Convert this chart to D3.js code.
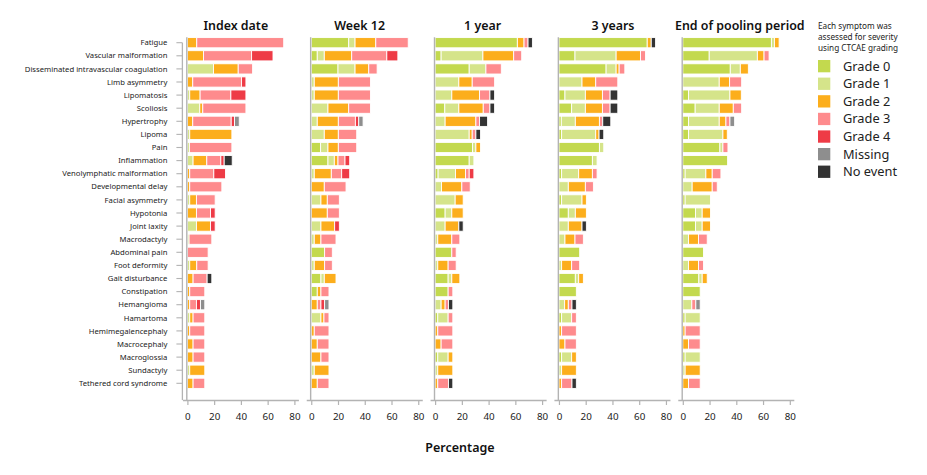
<!DOCTYPE html>
<html>
<head>
<meta charset="utf-8">
<script src="https://cdn.jsdelivr.net/npm/d3@7"></script>
<style>
  body { margin: 0; background: #fff; }
  text { font-family: 'Noto Sans', sans-serif; }
</style>
</head>
<body>
<div id="chart"></div>
<script>
const symptoms = [
  'Fatigue', 'Vascular malformation', 'Disseminated intravascular coagulation',
  'Limb asymmetry', 'Lipomatosis', 'Scoliosis', 'Hypertrophy', 'Lipoma', 'Pain',
  'Inflammation', 'Venolymphatic malformation', 'Developmental delay',
  'Facial asymmetry', 'Hypotonia', 'Joint laxity', 'Macrodactyly', 'Abdominal pain',
  'Foot deformity', 'Gait disturbance', 'Constipation', 'Hemangioma', 'Hamartoma',
  'Hemimegalencephaly', 'Macrocephaly', 'Macroglossia', 'Sundactyly',
  'Tethered cord syndrome',
];

const timepoints = ['Index date', 'Week 12', '1 year', '3 years', 'End of pooling period'];

const grades = ['Grade 0', 'Grade 1', 'Grade 2', 'Grade 3', 'Grade 4', 'Missing', 'No event'];
const gradeColors = ['#c3d94e', '#d5e48a', '#fcae1c', '#fe8b8d', '#ee3b46', '#8e8e8e', '#333333'];

const xTicks = [0, 20, 40, 60, 80];

// percentages per symptom, in grade order (G0, G1, G2, G3, G4, Missing, No event)
const indexDate = [
  [0, 0, 7, 65, 0, 0, 0],
  [0, 0, 12, 36, 16, 0, 0],
  [0, 19.5, 18.5, 10.75, 0, 0, 0],
  [0, 0, 4, 36.5, 3.25, 0, 0],
  [0, 1.75, 7.75, 23, 11.25, 0, 0],
  [0, 9.25, 2.25, 32.25, 0, 0, 0],
  [0, 0, 4, 28.75, 2.5, 3.5, 0],
  [0, 1.75, 31.5, 0, 0, 0, 0],
  [0, 1.5, 0, 31.75, 0, 0, 0],
  [0, 4.25, 10.25, 10.5, 2.5, 0, 6],
  [0, 0, 1.75, 18, 8.75, 0, 0],
  [0, 0, 1.75, 24, 0, 0, 0],
  [0, 1.75, 5, 14, 0, 0, 0],
  [0, 0, 6.75, 10.5, 3.5, 0, 0],
  [0, 6.75, 10.5, 0, 3.5, 0, 0],
  [0, 1.25, 0, 17, 0, 0, 0],
  [0, 0, 0, 15.5, 0, 0, 0],
  [0, 1.75, 5.25, 8.5, 0, 0, 0],
  [0, 0, 4.25, 10.5, 0, 0, 3.5],
  [0, 0, 1.75, 11.25, 0, 0, 0],
  [0, 0, 1.75, 5, 3, 3.25, 0],
  [0, 1.75, 2.5, 8.75, 0, 0, 0],
  [0, 0, 1.75, 11.25, 0, 0, 0],
  [0, 0, 4.25, 8.75, 0, 0, 0],
  [0, 0, 4.25, 8.75, 0, 0, 0],
  [0, 1.75, 11.25, 0, 0, 0, 0],
  [0, 0, 4.25, 8.75, 0, 0, 0],
];

const week12 = [
  [28, 4.75, 15.5, 24.25, 0, 0, 0],
  [4.5, 5.25, 20.5, 26.25, 8.25, 0, 0],
  [20, 12.75, 10.25, 6.25, 0, 0, 0],
  [0, 2.25, 18, 24, 0, 0, 0],
  [0, 2.25, 18, 24, 0, 0, 0],
  [0, 12.5, 15.5, 16.25, 0, 0, 0],
  [0, 4.5, 15.75, 12.75, 2.5, 3.25, 0],
  [0, 9.75, 10.5, 13.75, 0, 0, 0],
  [7, 5.5, 7.75, 13.75, 0, 0, 0],
  [12.5, 4.75, 2.75, 5.25, 3.5, 0, 0],
  [0, 2.25, 12.75, 7.75, 6, 0, 0],
  [0, 0, 9.75, 16.25, 0, 0, 0],
  [0, 7.25, 4.75, 9, 0, 0, 0],
  [0, 0, 12, 9, 0, 0, 0],
  [0, 7.25, 10.25, 0, 3.5, 0, 0],
  [0, 2.25, 5, 11.25, 0, 0, 0],
  [10, 0, 0, 5.75, 0, 0, 0],
  [0, 2.25, 7.75, 5.75, 0, 0, 0],
  [7.25, 2.5, 8.75, 0, 0, 0, 0],
  [4.5, 0, 2.75, 6, 0, 0, 0],
  [0, 0, 4.5, 2.75, 2.75, 3.25, 0],
  [0, 7.25, 2.25, 3.75, 0, 0, 0],
  [0, 0, 2.25, 11, 0, 0, 0],
  [0, 0, 4.5, 8.75, 0, 0, 0],
  [0, 0, 7.25, 6, 0, 0, 0],
  [0, 2.25, 11, 0, 0, 0, 0],
  [0, 0, 4.5, 8.75, 0, 0, 0],
];

const year1 = [
  [61.5, 0, 5, 3, 0, 0, 3.25],
  [4.5, 31.25, 23, 6, 0, 0, 0],
  [25.5, 12.5, 0, 11.5, 0, 0, 0],
  [0, 17.75, 10, 16.75, 0, 0, 0],
  [0, 12.5, 20.75, 7.75, 0, 0, 3.5],
  [7.25, 10.5, 18.25, 5, 0, 0, 3.5],
  [0, 7.5, 23, 2.75, 0, 0, 6],
  [0, 25.5, 2.25, 2.75, 0, 0, 3.5],
  [28, 2.5, 3.5, 0, 0, 0, 0],
  [25.5, 3.5, 0, 0, 0, 0, 0],
  [2.25, 13, 7.5, 2.75, 3.5, 0, 0],
  [0, 4.75, 15.25, 6.25, 0, 0, 0],
  [0, 15, 6, 0, 0, 0, 0],
  [7.5, 5, 8.5, 0, 0, 0, 0],
  [0, 7.5, 10.25, 0, 0, 0, 3.25],
  [0, 2, 10.5, 6, 0, 0, 0],
  [12.5, 0, 0, 3.25, 0, 0, 0],
  [0, 2, 7.75, 6, 0, 0, 0],
  [9.75, 2.75, 6, 0, 0, 0, 0],
  [9.75, 0, 0, 3.5, 0, 0, 0],
  [0, 4.5, 3, 2.5, 0, 0, 3.25],
  [2, 7.75, 0, 3.5, 0, 0, 0],
  [0, 0, 2, 11.25, 0, 0, 0],
  [0, 0, 4.5, 8.75, 0, 0, 0],
  [2, 7.75, 3.5, 0, 0, 0, 0],
  [0, 2, 11.25, 0, 0, 0, 0],
  [0, 0, 2, 8, 0, 0, 3.25],
];

const year3 = [
  [66, 0, 3, 0, 0, 0, 3.25],
  [12, 30.75, 18.25, 3.75, 0, 0, 0],
  [35.25, 7.5, 2.25, 4.25, 0, 0, 0],
  [0, 17.25, 10.25, 16.5, 0, 0, 0],
  [4.5, 15.25, 12.75, 5.75, 0, 0, 5.75],
  [9.5, 10.25, 12.75, 5.75, 0, 0, 5.75],
  [1.75, 10.5, 18, 2.5, 0, 0, 6],
  [2, 25.5, 2.5, 0, 0, 0, 3.5],
  [30.25, 3.25, 0, 0, 0, 0, 0],
  [25, 3.5, 0, 0, 0, 0, 0],
  [2, 12.75, 10.25, 3.5, 0, 0, 0],
  [0, 7, 12.75, 6, 0, 0, 0],
  [2, 15.25, 3.25, 0, 0, 0, 0],
  [7, 5.25, 8.25, 0, 0, 0, 0],
  [0, 7, 10.25, 0, 0, 0, 3.25],
  [0, 4.5, 7.5, 6.25, 0, 0, 0],
  [15.5, 0, 0, 0, 0, 0, 0],
  [0, 2, 7.5, 6, 0, 0, 0],
  [12.25, 2.5, 3.5, 0, 0, 0, 0],
  [13, 0, 0, 0, 0, 0, 0],
  [0, 4.25, 2.75, 2.75, 0, 0, 3.25],
  [2, 7.5, 0, 3.5, 0, 0, 0],
  [0, 0, 2, 11, 0, 0, 0],
  [0, 0, 4.5, 8.5, 0, 0, 0],
  [2, 7.5, 3.5, 0, 0, 0, 0],
  [0, 2, 11, 0, 0, 0, 0],
  [0, 0, 2, 7.75, 0, 0, 3.25],
];

const endOfPooling = [
  [66.25, 2.25, 3.5, 0, 0, 0, 0],
  [19.75, 36, 5, 3.75, 0, 0, 0],
  [35.5, 7.5, 6, 0, 0, 0, 0],
  [0, 27.25, 7.75, 9, 0, 0, 0],
  [4.25, 31, 8.5, 0, 0, 0, 0],
  [9.25, 18, 10.5, 6.25, 0, 0, 0],
  [4.25, 23, 5, 3, 0, 3.5, 0],
  [4.25, 25.75, 3.25, 0, 0, 0, 0],
  [27.75, 2.25, 0, 3.75, 0, 0, 0],
  [33.5, 0, 0, 0, 0, 0, 0],
  [1.75, 15.5, 4.75, 6.5, 0, 0, 0],
  [0, 7, 15, 3.75, 0, 0, 0],
  [1.75, 19, 0, 0, 0, 0, 0],
  [9.5, 5, 6.25, 0, 0, 0, 0],
  [9.5, 5, 6.25, 0, 0, 0, 0],
  [0, 4.25, 7.5, 6.5, 0, 0, 0],
  [15.5, 0, 0, 0, 0, 0, 0],
  [0, 4.25, 7.5, 3.75, 0, 0, 0],
  [12, 2.5, 3.75, 0, 0, 0, 0],
  [13, 0, 0, 0, 0, 0, 0],
  [0, 6.75, 0, 3, 0, 3.25, 0],
  [1.75, 11.25, 0, 0, 0, 0, 0],
  [0, 0, 1.75, 11.25, 0, 0, 0],
  [0, 0, 4.25, 8.75, 0, 0, 0],
  [1.75, 11.25, 0, 0, 0, 0, 0],
  [0, 1.75, 11.25, 0, 0, 0, 0],
  [0, 0, 4.25, 8.75, 0, 0, 0],
];

const panelValues = [indexDate, week12, year1, year3, endOfPooling];

const legendNote = ['Each symptom was', 'assessed for severity', 'using CTCAE grading'];

const AXIS_COLOR = '#b3b3b3';
const TEXT_COLOR = '#222';

const W = 927;
const H = 475;
const axisY = 400;
const firstZero = 187.4;
const panelStep = 123.85;
const pxPerPct = 1.3375;
// title centre offsets from each panel's zero line
const titleOffsets = [48.4, 48.4, 47.5, 54, 57];

const svg = d3
  .select('#chart')
  .append('svg')
  .attr('width', W)
  .attr('height', H);

// rows
const y = d3
  .scaleBand()
  .domain(symptoms)
  .range([34.7, 391.3])
  .paddingInner(0.22)
  .paddingOuter(0.22);

// row labels + offset y axis on the first panel
const yAxisX = firstZero - 5;
const yAxis = svg.append('g');

yAxis
  .append('line')
  .attr('x1', yAxisX)
  .attr('x2', yAxisX)
  .attr('y1', y(symptoms[0]) + y.bandwidth() / 2)
  .attr('y2', axisY)
  .attr('stroke', AXIS_COLOR)
  .attr('stroke-width', 1.3);

yAxis
  .selectAll('.ytick')
  .data(symptoms)
  .join('line')
  .attr('x1', yAxisX - 6)
  .attr('x2', yAxisX)
  .attr('y1', (d) => y(d) + y.bandwidth() / 2)
  .attr('y2', (d) => y(d) + y.bandwidth() / 2)
  .attr('stroke', AXIS_COLOR)
  .attr('stroke-width', 1.1);

yAxis
  .selectAll('.ylabel')
  .data(symptoms)
  .join('text')
  .attr('x', yAxisX - 15)
  .attr('y', (d) => y(d) + y.bandwidth() / 2)
  .attr('dy', '0.35em')
  .attr('text-anchor', 'end')
  .attr('font-size', 7.7)
  .attr('fill', TEXT_COLOR)
  .text((d) => d);

// one panel per timepoint
timepoints.forEach((tp, i) => {
  const zero = firstZero + i * panelStep;
  const x = d3
    .scaleLinear()
    .domain([-3.75, 83])
    .range([zero - 3.75 * pxPerPct, zero + 83 * pxPerPct]);

  const g = svg.append('g');

  // stack the grades for each symptom
  const rows = panelValues[i].map((vals, r) => {
    let acc = 0;
    return vals.map((v, k) => {
      const seg = { symptom: symptoms[r], grade: k, x0: acc, x1: acc + v };
      acc += v;
      return seg;
    });
  });
  const segs = rows.flat().filter((s) => s.x1 > s.x0);

  g.selectAll('rect')
    .data(segs)
    .join('rect')
    .attr('x', (d) => x(d.x0))
    .attr('y', (d) => y(d.symptom))
    .attr('width', (d) => x(d.x1) - x(d.x0))
    .attr('height', y.bandwidth())
    .attr('fill', (d) => gradeColors[d.grade])
    .attr('stroke', 'white')
    .attr('stroke-width', 0.9);

  // zero rule
  g.append('line')
    .attr('x1', x(0) - 0.6)
    .attr('x2', x(0) - 0.6)
    .attr('y1', y.range()[0] + 2.5)
    .attr('y2', axisY)
    .attr('stroke', AXIS_COLOR)
    .attr('stroke-width', 1.4);

  // x axis
  const xAxis = g
    .append('g')
    .attr('transform', `translate(0, ${axisY})`)
    .call(d3.axisBottom(x).tickValues(xTicks).tickSize(5).tickSizeOuter(0).tickPadding(8));

  xAxis.select('.domain').attr('stroke', AXIS_COLOR).attr('stroke-width', 1.4);
  xAxis.selectAll('line').attr('stroke', AXIS_COLOR).attr('stroke-width', 1.2);
  xAxis
    .selectAll('text')
    .attr('font-size', 9.8)
    .attr('fill', TEXT_COLOR)
    .style('font-family', "'Noto Sans', sans-serif");

  // panel title
  g.append('text')
    .attr('x', zero + titleOffsets[i])
    .attr('y', 30)
    .attr('text-anchor', 'middle')
    .attr('font-size', 12.4)
    .attr('font-weight', 600)
    .attr('fill', '#111')
    .text(tp);
});

// x axis title
svg
  .append('text')
  .attr('x', 460)
  .attr('y', 452)
  .attr('text-anchor', 'middle')
  .attr('font-size', 12.5)
  .attr('font-weight', 600)
  .attr('fill', '#111')
  .text('Percentage');

// legend
const legend = svg.append('g').attr('transform', 'translate(818, 0)');

legend
  .selectAll('.note')
  .data(legendNote)
  .join('text')
  .attr('x', 0)
  .attr('y', (d, i) => 28.5 + i * 11.2)
  .attr('font-size', 8.2)
  .attr('fill', TEXT_COLOR)
  .text((d) => d);

const items = legend
  .selectAll('.item')
  .data(grades)
  .join('g')
  .attr('transform', (d, i) => `translate(0, ${60 + i * 17.6})`);

items
  .append('rect')
  .attr('width', 12.3)
  .attr('height', 12.3)
  .attr('fill', (d, i) => gradeColors[i]);

items
  .append('text')
  .attr('x', 25)
  .attr('y', 6.2)
  .attr('dy', '0.35em')
  .attr('font-size', 12.8)
  .attr('fill', TEXT_COLOR)
  .text((d) => d);
</script>
</body>
</html>
